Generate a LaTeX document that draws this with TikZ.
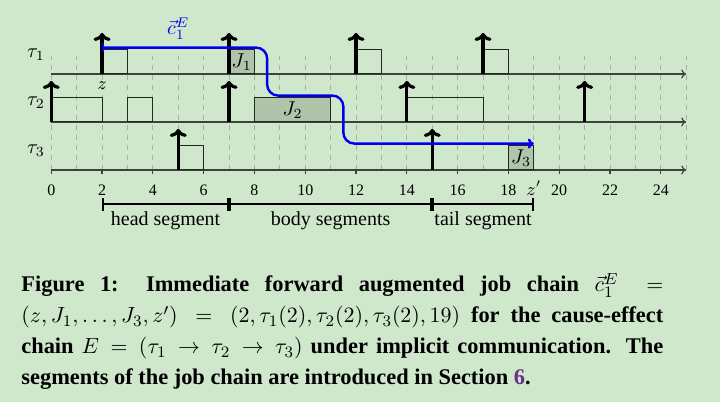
\documentclass[tikz,border=0pt]{standalone}
\usepackage{fontspec}
\setmainfont{Liberation Serif}
\usetikzlibrary{arrows.meta,positioning,calc}
\definecolor{bggreen}{HTML}{CFE8CC}
\definecolor{jobgrey}{HTML}{B0C4AA}
\definecolor{chainblue}{HTML}{0000F0}
\definecolor{linkpurple}{HTML}{6D2E8C}
\tikzset{
  axis/.style     = {draw=black!75, line width=0.6pt, -{To[length=2.5pt,width=4.5pt]}},
  gridline/.style = {draw=black, draw opacity=0.22, line width=0.5pt, dash pattern=on 2.5pt off 2.5pt},
  release/.style  = {line width=1.6pt, -{To[length=4pt,width=8.5pt]}},
  job/.style      = {draw=black!85, line width=0.5pt},
  jobhit/.style   = {job, fill=jobgrey},
  chain/.style    = {draw=chainblue, line width=1.2pt, rounded corners=5.5pt,
                     {Bar[width=4.5pt]}-{To[length=3pt,width=5pt]}},
  seg/.style      = {line width=1pt, {Bar[width=6.5pt]}-{Bar[width=6.5pt]}},
  tlbl/.style     = {font=\footnotesize, inner sep=1pt},
  every node/.style = {font=\normalsize},
}

\begin{document}
\begin{tikzpicture}[x=12.7pt, y=12pt]
  \fill[bggreen] (-2.02,-9.667) rectangle (26.33,7.083);
  \useasboundingbox (-2.02,-9.667) rectangle (26.33,7.083);
  \foreach \t in {0,...,25}
    \draw[gridline] (\t,0) -- (\t,4.75);
  \foreach \y/\k in {4/1,2/2,0/3} {
    \draw[axis] (0,\y) -- (25,\y);
    \node (tau\k) at (-0.6,\y+0.8) {$\tau_\k$};
  }
  \foreach \t in {0,2,...,24} {
    \draw[black!75, line width=0.6pt] (\t,0) -- (\t,-0.17);
    \node[tlbl] (tick\t) at (\t,-0.83) {\t};
  }
  \node[tlbl, font=\small] (zstart) at (2,3.5) {$z$};
  \node[tlbl, font=\small] (zend) at (19,-0.75) {$z'$};
  \foreach \a/\b/\y in {2/3/4,12/13/4,17/18/4,0/2/2,3/4/2,14/17/2,5/6/0}
    \draw[job] (\a,\y) rectangle (\b,\y+1);
  \draw[jobhit] (7,4) rectangle node (j1) {$J_1$} (8,5);
  \draw[jobhit] (8,2) rectangle node (j2) {$J_2$} (11,3);
  \draw[jobhit] (18,0) rectangle node (j3) {$J_3$} (19,1);
  \foreach \t/\y in {2/4,7/4,12/4,17/4,0/2,7/2,14/2,21/2,5/0,15/0}
    \draw[release] (\t,\y) -- ++(0,1.71);
  \coordinate (cstart) at (2,5.1);
  \coordinate (cend) at (19,1.1);
  \draw[chain] (cstart) -- ++(6.5,0) -- ++(0,-2) -- ++(3,0) -- ++(0,-2) -- (cend);
  \node[text=chainblue, inner sep=1pt] (chainlbl) at (5,5.9) {$\vec{c}_1^{E}$};
  \coordinate (s0) at (2,-1.42);
  \coordinate (s1) at (7,-1.42);
  \coordinate (s2) at (15,-1.42);
  \coordinate (s3) at (19,-1.42);
  \draw[seg] (s0) -- (s1) node[midway, below] (headseg) {head segment};
  \draw[seg] (s1) -- (s2) node[midway, below] (bodyseg) {body segments};
  \draw[seg] (s2) -- (s3) node[midway, below] (tailseg) {tail segment};
  \node[anchor=base west, text width=321pt, align=justify, inner sep=0pt,
        font=\fontsize{11.2}{15.5}\selectfont\bfseries] (caption) at (-1.193,-5.083)
    {Figure 1: Immediate forward augmented job chain $\vec{c}_1^{E} =$\linebreak
     $(z, J_1, \ldots, J_3, z') = (2, \tau_1(2), \tau_2(2), \tau_3(2), 19)$ for the cause-effect\linebreak
     chain $E = (\tau_1 \rightarrow \tau_2 \rightarrow \tau_3)$ under implicit communication. The\linebreak
     segments of the job chain are introduced in Section \textcolor{linkpurple}{6}.};
\end{tikzpicture}
\end{document}
